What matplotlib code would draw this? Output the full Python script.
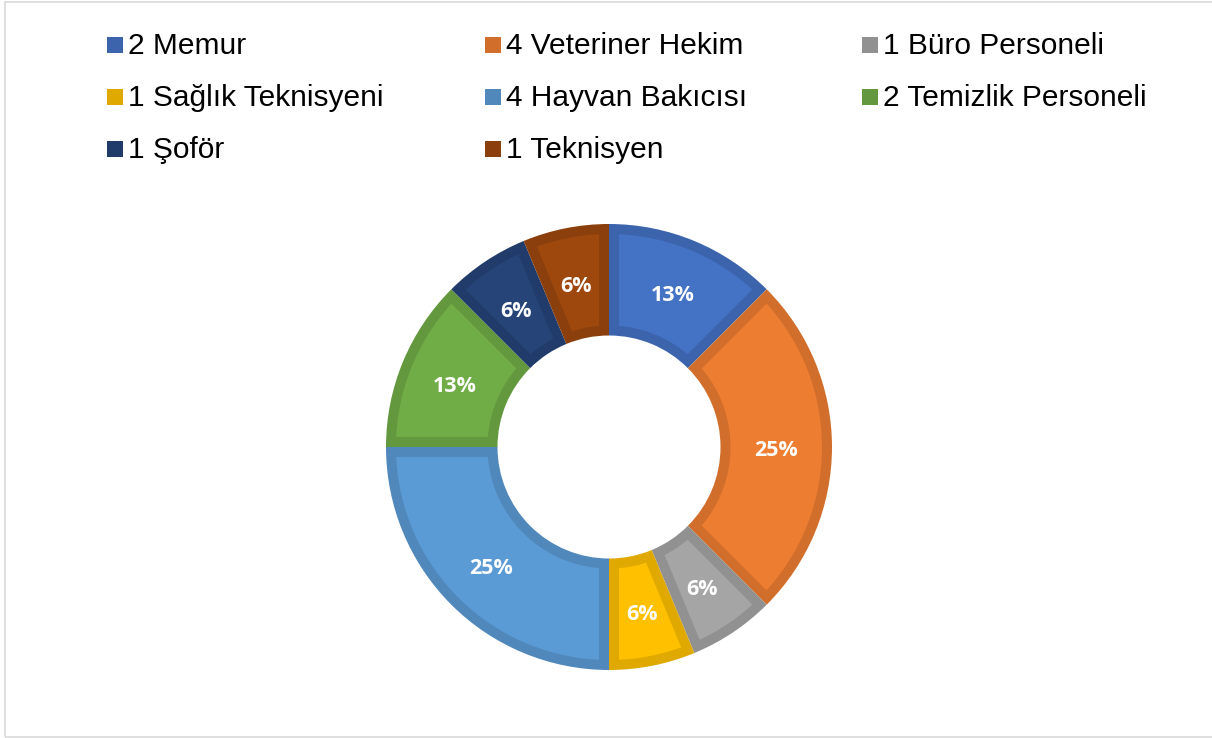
import numpy as np
import matplotlib.pyplot as plt
from matplotlib.patches import Rectangle, Polygon
from matplotlib.colors import to_rgb

# veriler
labels = ["2 Memur", "4 Veteriner Hekim", "1 Büro Personeli",
          "1 Sağlık Teknisyeni", "4 Hayvan Bakıcısı", "2 Temizlik Personeli",
          "1 Şoför", "1 Teknisyen"]
values = [2, 4, 1, 1, 4, 2, 1, 1]
pct_labels = ["13%", "25%", "6%", "6%", "25%", "13%", "6%", "6%"]
colors = ["#4472C4", "#ED7D31", "#A5A5A5", "#FFC000",
          "#5B9BD5", "#70AD47", "#264478", "#9E480E"]

W, H = 1212, 738
fig = plt.figure(figsize=(W / 100, H / 100), dpi=100)

# kenar cizgisi
fig.add_artist(Rectangle((5 / W, 1 / H), 1.2, (736 - 1) / H, transform=fig.transFigure,
                         fill=False, edgecolor="#D9D9D9", linewidth=1.2))

edge_colors = [tuple(c * 0.88 for c in to_rgb(col)) for col in colors]

# pasta (halka): once koyu renkte tam dilimler
cx, cy, r = 609, H - 447, 223
ax = fig.add_axes([(cx - r) / W, (cy - r) / H, 2 * r / W, 2 * r / H])
wedges, _ = ax.pie(values, colors=edge_colors, startangle=90, counterclock=False,
                   radius=1.0, wedgeprops=dict(width=0.5, linewidth=0))

# sonra her dilimin icine acik renkli dolgu (kenarlik ~10px)
b = 10 / r
for w, col in zip(wedges, colors):
    R = w.r
    r0 = w.r - w.width
    t1, t2 = np.deg2rad(w.theta1), np.deg2rad(w.theta2)
    a_out = np.arcsin(b / (R - b))
    a_in = np.arcsin(b / (r0 + b))
    th_o = np.linspace(t1 + a_out, t2 - a_out, 60)
    th_i = np.linspace(t2 - a_in, t1 + a_in, 60)
    pts = np.vstack([np.column_stack([(R - b) * np.cos(th_o), (R - b) * np.sin(th_o)]),
                     np.column_stack([(r0 + b) * np.cos(th_i), (r0 + b) * np.sin(th_i)])])
    ax.add_patch(Polygon(pts, closed=True, facecolor=col, linewidth=0))

mid = 0.75
dy = -3.5 / r
cum = np.cumsum([0] + values)
tot = sum(values)
for i, lab in enumerate(pct_labels):
    ang = np.deg2rad(90 - 360 * (cum[i] + values[i] / 2) / tot)
    ax.text(mid * np.cos(ang), mid * np.sin(ang) + dy, lab, ha="center", va="center",
            color="white", fontsize=15.5, fontweight="bold", family="Open Sans")
ax.set_xlim(-1, 1)
ax.set_ylim(-1, 1)
ax.set_aspect("equal")
ax.axis("off")

# lejant
col_x = [107, 485, 862]
row_y = [45, 97, 149]
for i, lab in enumerate(labels):
    x = col_x[i % 3]
    y = row_y[i // 3]
    fig.add_artist(Rectangle((x / W, (H - y - 8) / H), 16 / W, 16 / H,
                             transform=fig.transFigure, color=edge_colors[i], linewidth=0))
    fig.text((x + 21) / W, (H - y - 1.5) / H, lab, ha="left", va="center",
             fontsize=21.5, family="Liberation Sans", color="black")

plt.savefig("out.png", dpi=100)
